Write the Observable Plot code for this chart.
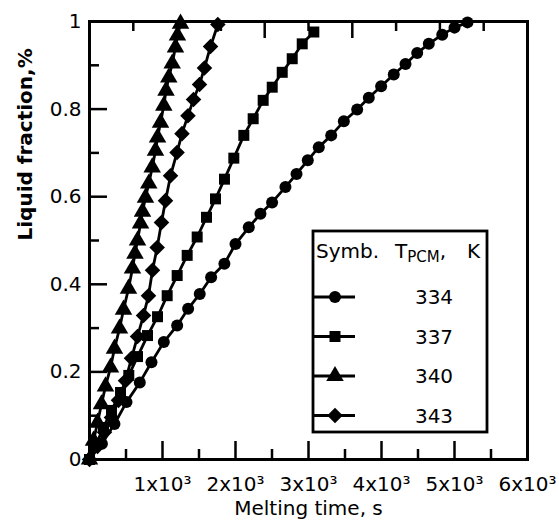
<!DOCTYPE html>
<html><head><meta charset="utf-8">
<script src="https://cdn.jsdelivr.net/npm/d3@7"></script>
<script src="https://cdn.jsdelivr.net/npm/@observablehq/plot@0.6"></script>
<style>
body{margin:0;background:#fff;}
#wrap{position:relative;width:559px;height:522px;}
#wrap svg{display:block;}
#legend{position:absolute;left:0;top:0;pointer-events:none;}
</style></head><body><div id="wrap"></div>
<script>
// ---- data ----
const seriesLabels = ["334", "337", "340", "343"];
const seriesSymbols = ["circle", "square", "triangle", "diamond2"];
const seriesRadius = [6, 6.2, 6.5, 7];

const time334 = [0,170,342,507,689,849,1018,1201,1351,1510,1666,1848,2000,2182,2342,2501,2684,2836,2990,3141,3311,3484,3667,3826,3995,4168,4329,4489,4648,4832,5000,5178];
const frac334 = [0,0.036,0.081,0.131,0.176,0.222,0.268,0.306,0.344,0.378,0.416,0.447,0.492,0.530,0.561,0.587,0.622,0.652,0.683,0.713,0.740,0.772,0.799,0.826,0.852,0.879,0.903,0.928,0.949,0.970,0.986,0.998];

const time337 = [0,96,192,301,425,538,658,795,932,1064,1201,1338,1475,1603,1726,1849,1977,2114,2242,2379,2503,2640,2777,2914,3073];
const frac337 = [0,0.037,0.073,0.112,0.153,0.192,0.235,0.283,0.326,0.374,0.420,0.466,0.508,0.553,0.595,0.640,0.688,0.740,0.778,0.820,0.850,0.884,0.915,0.949,0.976];

const time340 = [0,55,110,164,219,288,342,411,466,534,589,623,658,699,726,767,812,859,904,932,973,1018,1048,1086,1133,1178,1205,1247];
const frac340 = [0,0.043,0.084,0.126,0.167,0.210,0.253,0.299,0.342,0.390,0.436,0.470,0.500,0.539,0.566,0.598,0.630,0.667,0.705,0.735,0.769,0.808,0.842,0.872,0.904,0.941,0.968,0.995];

const time343 = [0,110,205,301,397,493,575,658,740,808,863,927,986,1041,1110,1199,1267,1349,1425,1507,1575,1658,1758];
const frac343 = [0,0.030,0.062,0.096,0.135,0.180,0.231,0.281,0.329,0.374,0.432,0.484,0.541,0.591,0.648,0.701,0.744,0.785,0.822,0.856,0.894,0.943,0.993];

const xTickValues = [1000, 2000, 3000, 4000, 5000, 6000];
const xTickLabels = ["1x10³", "2x10³", "3x10³", "4x10³", "5x10³", "6x10³"];
const xMajorTicks = [1000, 2000, 3000, 4000, 5000];
const xMinorTicks = [500, 1500, 2500, 3500, 4500, 5500];
const topMajorTicks = [1200, 2400, 3600, 4800];
const topMinorTicks = [600, 1800, 3000, 4200, 5400];
const yTickValues = [0, 0.2, 0.4, 0.6, 0.8, 1];
const yTickLabels = ["0", "0.2", "0.4", "0.6", "0.8", "1"];
const yMajorTicks = [0.2, 0.4, 0.6, 0.8];
const yMinorTicks = [0.1, 0.3, 0.5, 0.7, 0.9];

const xTitle = "Melting time, s";
const yTitle = "Liquid fraction,%";
const legendHeader = ["Symb.", "T", "PCM", ",", "K"];

// ---- build ----
const times = [time334, time337, time340, time343];
const fracs = [frac334, frac337, frac340, frac343];
const series = seriesLabels.map((label, i) => ({
  label, symbol: seriesSymbols[i], r: seriesRadius[i],
  rows: times[i].map((t, j) => ({t, f: fracs[i][j], series: label}))
}));

const W = 559, H = 522, mL = 89, mR = 32, mT = 21, mB = 63;
const fw = W - mL - mR, fh = H - mT - mB;
const ink = "#000";

const marks = [];
series.forEach(s => marks.push(Plot.line(s.rows, {x: "t", y: "f", stroke: ink, strokeWidth: 2.8})));
series.forEach(s => marks.push(Plot.dot(s.rows, {x: "t", y: "f", symbol: () => s.symbol, fill: ink, stroke: "none", r: s.r})));

marks.push(
  Plot.tickX(xMajorTicks, {x: d => d, insetTop: fh - 18, stroke: ink, strokeWidth: 2.5}),
  Plot.tickX(xMinorTicks, {x: d => d, insetTop: fh - 10, stroke: ink, strokeWidth: 2.5}),
  Plot.tickX(topMajorTicks, {x: d => d, insetBottom: fh - 17, stroke: ink, strokeWidth: 2.5}),
  Plot.tickX(topMinorTicks, {x: d => d, insetBottom: fh - 10, stroke: ink, strokeWidth: 2.5}),
  Plot.tickY(yMajorTicks, {y: d => d, insetRight: fw - 18, stroke: ink, strokeWidth: 2.5}),
  Plot.tickY(yMinorTicks, {y: d => d, insetRight: fw - 10, stroke: ink, strokeWidth: 2.5}),
  Plot.frame({stroke: ink, strokeWidth: 3}),
  Plot.axisX(xTickValues, {tickSize: 0, tickPadding: 17, tickFormat: d => xTickLabels[xTickValues.indexOf(d)], label: null, fill: ink}),
  Plot.axisY(yTickValues, {tickSize: 0, tickPadding: 8, tickFormat: d => yTickLabels[yTickValues.indexOf(d)], label: null, fill: ink}),
  Plot.text([xTitle], {frameAnchor: "bottom", lineAnchor: "top", dy: 41, text: d => d, fill: ink}),
  Plot.text([yTitle], {frameAnchor: "left", rotate: -90, dx: -64, text: d => d, fill: ink, fontWeight: "bold"})
);

const chart = Plot.plot({
  width: W, height: H,
  marginLeft: mL, marginRight: mR, marginTop: mT, marginBottom: mB,
  style: {fontFamily: "'DejaVu Sans', sans-serif", fontSize: "20px", color: ink, background: "#fff"},
  x: {domain: [0, 6000], axis: null},
  y: {domain: [0, 1], axis: null},
  symbol: {domain: seriesSymbols, range: seriesSymbols},
  marks
});
document.getElementById("wrap").appendChild(chart);

// ---- legend overlay ----
const symType = {circle: d3.symbolCircle, square: d3.symbolSquare, triangle: d3.symbolTriangle, diamond2: d3.symbolDiamond2};
const lg = d3.select("#wrap").append("svg").attr("id", "legend").attr("width", W).attr("height", H)
  .style("font-family", "'DejaVu Sans', sans-serif").style("font-size", "20px");
const bx = 313, by = 231, bw = 174, bh = 201;
lg.append("rect").attr("x", bx).attr("y", by).attr("width", bw).attr("height", bh)
  .attr("fill", "#fff").attr("stroke", ink).attr("stroke-width", 2.8);
const hdr = lg.append("text").attr("x", bx + 3).attr("y", by + 27).attr("fill", ink);
hdr.append("tspan").text(legendHeader[0]);
hdr.append("tspan").attr("x", bx + 82).text(legendHeader[1]);
hdr.append("tspan").attr("dy", 4).style("font-size", "15px").text(legendHeader[2]);
hdr.append("tspan").attr("dy", -4).text(legendHeader[3]);
hdr.append("tspan").attr("x", bx + 154).text(legendHeader[4]);
series.forEach((s, i) => {
  const cy = by + 66 + i * 39.5;
  lg.append("line").attr("x1", bx).attr("x2", bx + 42).attr("y1", cy).attr("y2", cy)
    .attr("stroke", ink).attr("stroke-width", 2.8);
  lg.append("path").attr("transform", `translate(${bx + 22},${cy})`)
    .attr("d", d3.symbol(symType[s.symbol], Math.PI * s.r * s.r)()).attr("fill", ink);
  lg.append("text").attr("x", bx + 121).attr("y", cy).attr("dy", "0.36em")
    .attr("text-anchor", "middle").attr("fill", ink).text(s.label);
});
</script>
</body></html>
